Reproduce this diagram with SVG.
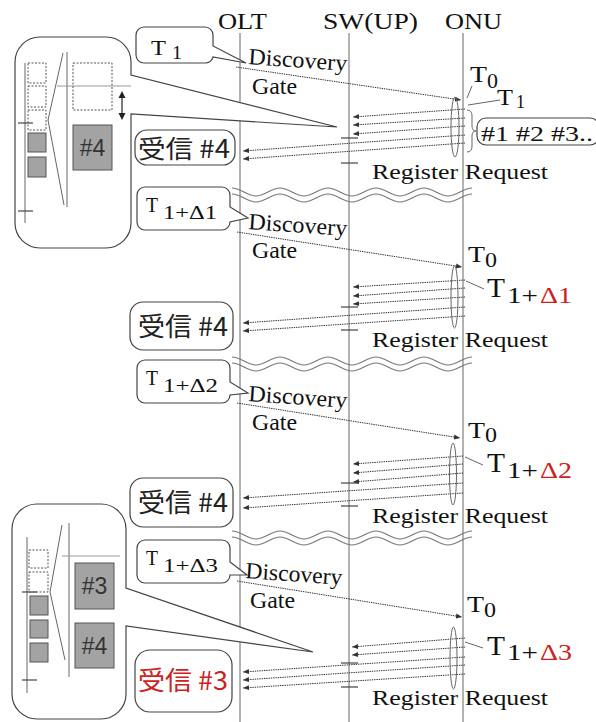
<svg xmlns="http://www.w3.org/2000/svg" width="596" height="722" viewBox="0 0 596 722">
<defs>
<style>
.life{stroke:#666;stroke-width:1;fill:none}
.msg{stroke:#333;stroke-width:1;stroke-dasharray:1.4 0.9;fill:none}
.ser{font-family:"Liberation Serif","Times New Roman",serif;fill:#111}
.jp{font-family:"Noto Sans CJK JP",sans-serif;fill:#222}
.sans{font-family:"Liberation Sans",Arial,sans-serif;fill:#333}
.box{fill:#fff;stroke:#444;stroke-width:1.2}
.wave{stroke:#777;stroke-width:1.2;fill:none}
.thin{stroke:#666;stroke-width:1;fill:none}
.tick{stroke:#444;stroke-width:1.2;fill:none}
.dash{fill:none;stroke:#555;stroke-width:1;stroke-dasharray:2 1.5}
.gray{fill:#a3a3a3;stroke:#555;stroke-width:1}
.red{fill:#cc2222}
</style>
<marker id="ah" viewBox="0 0 6 6" refX="6" refY="3" markerWidth="6" markerHeight="6" markerUnits="userSpaceOnUse" orient="auto"><path d="M0,0.5 L6,3 L0,5.5 Z" fill="#333"/></marker>
<path id="wv" d="M0,0 c8.6,0 15.4,8 24,8 s15.4,-8 24,-8 s15.4,8 24,8 s15.4,-8 24,-8 s15.4,8 24,8 s15.4,-8 24,-8 s15.4,8 24,8 s15.4,-8 24,-8 s15.4,8 24,8 s15.4,-8 24,-8"/>
</defs>
<rect width="596" height="722" fill="#fff"/>

<!-- lifelines -->
<g id="lifelines">
<text class="ser" x="218" y="29" font-size="23" textLength="49" lengthAdjust="spacingAndGlyphs">OLT</text>
<text class="ser" x="323" y="29" font-size="23" textLength="95" lengthAdjust="spacingAndGlyphs">SW(UP)</text>
<text class="ser" x="445" y="29" font-size="23" textLength="57" lengthAdjust="spacingAndGlyphs">ONU</text>
<line class="life" x1="240" y1="33" x2="240" y2="722"/>
<line class="life" x1="349" y1="33" x2="349" y2="722"/>
<line class="life" x1="463" y1="33" x2="463" y2="722"/>
</g>

<!-- section breaks -->
<g id="breaks" class="wave">
<use href="#wv" x="232" y="188"/><use href="#wv" x="232" y="194"/>
<use href="#wv" x="232" y="357"/><use href="#wv" x="232" y="363"/>
<use href="#wv" x="232" y="531"/><use href="#wv" x="232" y="537"/>
</g>

<!-- connectors -->
<g id="connectors">
<g class="msg" marker-end="url(#ah)">
<line x1="236" y1="67" x2="461" y2="100"/>
<line x1="465" y1="109" x2="353" y2="117"/>
<line x1="465" y1="118" x2="353" y2="125"/>
<line x1="465" y1="126" x2="353" y2="134"/>
<line x1="465" y1="135" x2="243" y2="151"/>
<line x1="465" y1="143" x2="243" y2="159"/>

<line x1="237" y1="232" x2="462" y2="267"/>
<line x1="465" y1="280" x2="353" y2="287"/>
<line x1="465" y1="288" x2="353" y2="296"/>
<line x1="465" y1="297" x2="353" y2="304"/>
<line x1="465" y1="307" x2="243" y2="323"/>
<line x1="465" y1="316" x2="243" y2="331"/>

<line x1="237" y1="403" x2="460" y2="438"/>
<line x1="463" y1="456" x2="353" y2="464"/>
<line x1="463" y1="464" x2="353" y2="473"/>
<line x1="463" y1="473" x2="353" y2="482"/>
<line x1="463" y1="483" x2="243" y2="498"/>
<line x1="463" y1="493" x2="243" y2="508"/>

<line x1="237" y1="581" x2="462" y2="617"/>
<line x1="465" y1="638" x2="352" y2="647"/>
<line x1="465" y1="647" x2="352" y2="655"/>
<line x1="465" y1="657" x2="243" y2="672"/>
<line x1="465" y1="665" x2="243" y2="680"/>
<line x1="465" y1="674" x2="243" y2="688"/>
</g>
<!-- switch window marks -->
<g class="tick">
<line x1="341" y1="138" x2="358" y2="138"/><line x1="341" y1="163" x2="358" y2="163"/>
<line x1="341" y1="307" x2="358" y2="307"/><line x1="341" y1="330" x2="358" y2="330"/>
<line x1="341" y1="483" x2="358" y2="483"/><line x1="341" y1="506" x2="358" y2="506"/>
<line x1="341" y1="663" x2="358" y2="663"/><line x1="341" y1="687" x2="358" y2="687"/>
</g>
<!-- burst loops -->
<g class="thin">
<ellipse cx="455" cy="127" rx="4" ry="30"/>
<ellipse cx="454.5" cy="297" rx="3.5" ry="31"/>
<ellipse cx="453" cy="474" rx="3.5" ry="31"/>
<ellipse cx="453.5" cy="658" rx="3.5" ry="31"/>
<!-- label leaders -->
<line x1="472" y1="86" x2="467" y2="98"/>
<line x1="468" y1="105" x2="500" y2="100"/>
<line x1="484" y1="289" x2="466" y2="281"/>
<line x1="483" y1="465" x2="465" y2="457"/>
<line x1="483" y1="648" x2="465" y2="642"/>
<path d="M467,110 Q472,110 472,116 V126 Q472,131 476,131 Q472,131 472,136 V146 Q472,152 467,152"/>
</g>
</g>

<!-- labels on the message flows -->
<g id="flow-labels">
<text class="ser" x="248" y="64" font-size="23" textLength="99" lengthAdjust="spacingAndGlyphs" transform="rotate(4 248 64)">Discovery</text>
<text class="ser" x="252" y="94" font-size="23" textLength="45" lengthAdjust="spacingAndGlyphs">Gate</text>
<text class="ser" x="372" y="179" font-size="22" textLength="176" lengthAdjust="spacingAndGlyphs">Register Request</text>

<text class="ser" x="248" y="229" font-size="23" textLength="99" lengthAdjust="spacingAndGlyphs" transform="rotate(4 248 229)">Discovery</text>
<text class="ser" x="252" y="258" font-size="23" textLength="45" lengthAdjust="spacingAndGlyphs">Gate</text>
<text class="ser" x="372" y="347" font-size="22" textLength="176" lengthAdjust="spacingAndGlyphs">Register Request</text>

<text class="ser" x="248" y="401" font-size="23" textLength="99" lengthAdjust="spacingAndGlyphs" transform="rotate(4 248 401)">Discovery</text>
<text class="ser" x="252" y="430" font-size="23" textLength="45" lengthAdjust="spacingAndGlyphs">Gate</text>
<text class="ser" x="372" y="523" font-size="22" textLength="176" lengthAdjust="spacingAndGlyphs">Register Request</text>

<text class="ser" x="245" y="578" font-size="23" textLength="97" lengthAdjust="spacingAndGlyphs" transform="rotate(4 245 578)">Discovery</text>
<text class="ser" x="250" y="608" font-size="23" textLength="45" lengthAdjust="spacingAndGlyphs">Gate</text>
<text class="ser" x="372" y="705" font-size="22" textLength="176" lengthAdjust="spacingAndGlyphs">Register Request</text>
</g>

<!-- ONU side timing labels -->
<g id="onu-labels">
<text class="ser" x="470" y="82" font-size="24" textLength="17" lengthAdjust="spacingAndGlyphs">T</text>
<text class="ser" x="487" y="88" font-size="20" textLength="11" lengthAdjust="spacingAndGlyphs">0</text>
<text class="ser" x="497" y="105" font-size="23" textLength="16" lengthAdjust="spacingAndGlyphs">T</text>
<text class="ser" x="516" y="108" font-size="19" textLength="9" lengthAdjust="spacingAndGlyphs">1</text>

<text class="ser" x="468" y="262" font-size="24" textLength="17" lengthAdjust="spacingAndGlyphs">T</text>
<text class="ser" x="485" y="267" font-size="20" textLength="12" lengthAdjust="spacingAndGlyphs">0</text>
<text class="ser" x="487" y="297" font-size="27" textLength="18" lengthAdjust="spacingAndGlyphs">T</text>
<text class="ser" x="507" y="303" font-size="23" textLength="31" lengthAdjust="spacingAndGlyphs">1+</text>
<text class="ser red" x="540" y="303" font-size="23" textLength="32" lengthAdjust="spacingAndGlyphs">Δ1</text>

<text class="ser" x="468" y="438" font-size="24" textLength="17" lengthAdjust="spacingAndGlyphs">T</text>
<text class="ser" x="485" y="442" font-size="20" textLength="12" lengthAdjust="spacingAndGlyphs">0</text>
<text class="ser" x="487" y="472" font-size="27" textLength="18" lengthAdjust="spacingAndGlyphs">T</text>
<text class="ser" x="507" y="478" font-size="23" textLength="31" lengthAdjust="spacingAndGlyphs">1+</text>
<text class="ser red" x="540" y="478" font-size="23" textLength="32" lengthAdjust="spacingAndGlyphs">Δ2</text>

<text class="ser" x="467" y="612" font-size="24" textLength="17" lengthAdjust="spacingAndGlyphs">T</text>
<text class="ser" x="484" y="617" font-size="20" textLength="12" lengthAdjust="spacingAndGlyphs">0</text>
<text class="ser" x="487" y="655" font-size="27" textLength="18" lengthAdjust="spacingAndGlyphs">T</text>
<text class="ser" x="507" y="660" font-size="23" textLength="31" lengthAdjust="spacingAndGlyphs">1+</text>
<text class="ser red" x="540" y="660" font-size="23" textLength="32" lengthAdjust="spacingAndGlyphs">Δ3</text>
</g>

<!-- burst id box -->
<g id="burst-ids">
<rect class="box" x="477" y="118" width="122" height="27" rx="9"/>
<text class="ser" x="481" y="141" font-size="21" textLength="112" lengthAdjust="spacingAndGlyphs">#1 #2 #3..</text>
</g>

<!-- timing callouts at OLT -->
<g id="t1">
<path class="box" d="M144,27 H205 A8,8 0 0 1 213,35 V46 L246,63 L213,57 A8,8 0 0 1 205,63 H144 A8,8 0 0 1 136,55 V35 A8,8 0 0 1 144,27 Z"/>
<text class="ser" x="151" y="55" font-size="20" textLength="15" lengthAdjust="spacingAndGlyphs">T</text>
<text class="ser" x="172" y="59" font-size="18" textLength="10" lengthAdjust="spacingAndGlyphs">1</text>
</g>
<g id="t1d1">
<path class="box" d="M145,187 H222 A8,8 0 0 1 230,195 V207 L248,218 L230,222 A8,8 0 0 1 222,230 H145 A8,8 0 0 1 137,222 V195 A8,8 0 0 1 145,187 Z"/>
<text class="ser" x="146" y="212" font-size="21" textLength="12" lengthAdjust="spacingAndGlyphs">T</text>
<text class="ser" x="163" y="219" font-size="18" textLength="54" lengthAdjust="spacingAndGlyphs">1+Δ1</text>
</g>
<g id="t1d2">
<path class="box" d="M145,360 H222 A8,8 0 0 1 230,368 V382 L248,393 L230,395 A8,8 0 0 1 222,403 H145 A8,8 0 0 1 137,395 V368 A8,8 0 0 1 145,360 Z"/>
<text class="ser" x="146" y="385" font-size="21" textLength="12" lengthAdjust="spacingAndGlyphs">T</text>
<text class="ser" x="163" y="392" font-size="18" textLength="55" lengthAdjust="spacingAndGlyphs">1+Δ2</text>
</g>
<g id="t1d3">
<path class="box" d="M145,540 H222 A8,8 0 0 1 230,548 V562 L247,575 L230,575 A8,8 0 0 1 222,583 H145 A8,8 0 0 1 137,575 V548 A8,8 0 0 1 145,540 Z"/>
<text class="ser" x="146" y="565" font-size="21" textLength="12" lengthAdjust="spacingAndGlyphs">T</text>
<text class="ser" x="163" y="572" font-size="18" textLength="55" lengthAdjust="spacingAndGlyphs">1+Δ3</text>
</g>

<!-- reception callouts -->
<g id="rx1">
<rect class="box" x="135" y="130" width="100" height="35" rx="12"/>
<text class="jp" x="138" y="158" font-size="25" textLength="92" lengthAdjust="spacingAndGlyphs">受信 #4</text>
</g>
<g id="rx2">
<rect class="box" x="130" y="302" width="103" height="48" rx="13"/>
<text class="jp" x="138" y="336" font-size="26" textLength="90" lengthAdjust="spacingAndGlyphs">受信 #4</text>
</g>
<g id="rx3">
<rect class="box" x="130" y="478" width="103" height="49" rx="13"/>
<text class="jp" x="138" y="512" font-size="26" textLength="90" lengthAdjust="spacingAndGlyphs">受信 #4</text>
</g>
<g id="rx4">
<rect class="box" x="135" y="650" width="97" height="62" rx="15"/>
<text class="jp red" x="138" y="690" font-size="26" textLength="90" lengthAdjust="spacingAndGlyphs">受信 #3</text>
</g>

<!-- buffer view, first window -->
<g id="buffer1">
<path class="box" d="M40,37 H106 A25,25 0 0 1 131,62 V75 L337,127 L131,114 V223 A25,25 0 0 1 106,248 H40 A25,25 0 0 1 15,223 V62 A25,25 0 0 1 40,37 Z"/>
<line class="thin" x1="25" y1="63" x2="25" y2="223"/>
<line class="tick" x1="18" y1="123" x2="33" y2="123"/>
<line class="tick" x1="18" y1="211" x2="33" y2="211"/>
<rect class="dash" x="28" y="63" width="18" height="20"/>
<rect class="dash" x="28" y="86" width="18" height="21"/>
<rect class="dash" x="28" y="110" width="18" height="20"/>
<rect class="gray" x="28" y="133" width="18" height="19"/>
<rect class="gray" x="28" y="157" width="18" height="20"/>
<path class="thin" d="M63,53 L48,120 L64,205"/>
<line class="thin" x1="67" y1="52" x2="67" y2="207"/>
<line x1="57" y1="86" x2="131" y2="86" stroke="#999" stroke-width="1"/>
<rect class="dash" x="73" y="63" width="39" height="47"/>
<rect class="gray" x="73" y="125" width="39" height="45"/>
<text class="sans" x="92.5" y="155.5" font-size="23" text-anchor="middle">#4</text>
<line x1="122" y1="97" x2="122" y2="114" stroke="#222" stroke-width="1.2"/>
<path d="M118.5,98 L122,91 L125.5,98 Z M118.5,113 L122,120 L125.5,113 Z" fill="#222"/>
</g>

<!-- buffer view, last window -->
<g id="buffer2">
<path class="box" d="M37,504 H101 A25,25 0 0 1 126,529 V588 L313,652 L126,626 V694 A25,25 0 0 1 101,719 H37 A25,25 0 0 1 12,694 V529 A25,25 0 0 1 37,504 Z"/>
<line class="thin" x1="27" y1="537" x2="27" y2="693"/>
<line class="tick" x1="22" y1="592" x2="37" y2="592"/>
<line class="tick" x1="22" y1="680" x2="37" y2="680"/>
<rect class="dash" x="29" y="550" width="19" height="18"/>
<rect class="dash" x="29" y="572" width="19" height="20"/>
<rect class="gray" x="30" y="596" width="18" height="19"/>
<rect class="gray" x="30" y="620" width="18" height="18"/>
<rect class="gray" x="30" y="643" width="18" height="19"/>
<path class="thin" d="M62,525 L50,592 L65,660"/>
<line class="thin" x1="69" y1="523" x2="69" y2="677"/>
<line x1="62" y1="556" x2="120" y2="556" stroke="#999" stroke-width="1"/>
<rect class="gray" x="75" y="563" width="39" height="46"/>
<text class="sans" x="94.5" y="594" font-size="23" text-anchor="middle">#3</text>
<rect class="gray" x="75" y="623" width="39" height="45"/>
<text class="sans" x="94.5" y="653.5" font-size="23" text-anchor="middle">#4</text>
</g>
</svg>
